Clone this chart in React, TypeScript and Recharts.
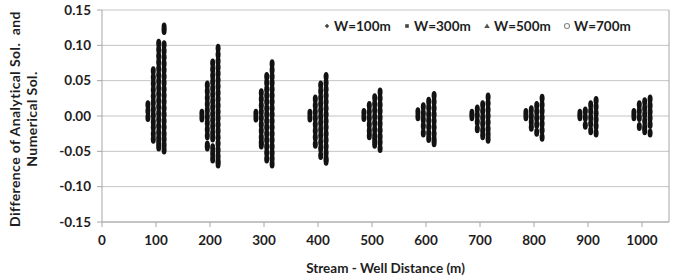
import React from "react";
import { ScatterChart, Scatter, XAxis, YAxis, CartesianGrid, ReferenceLine, Label } from "recharts";

const FONT = "Lato, 'Liberation Sans', sans-serif";
const TEXT = "#1e1e1e";
const GRID = "#c4c4c4";
const AXIS = "#a6a6a6";
const FS = 13.5;

const xTicks = [0, 100, 200, 300, 400, 500, 600, 700, 800, 900, 1000];
const yTicks = [-0.15, -0.1, -0.05, 0, 0.05, 0.1, 0.15];

// column x position for every stream-well distance, one list per well width
const w100X = [85, 185, 285, 385, 485, 585, 685, 785, 885, 985];
const w300X = [95, 195, 295, 395, 495, 595, 695, 795, 895, 995];
const w500X = [105, 205, 305, 405, 505, 605, 705, 805, 905, 1005];
const w700X = [115, 215, 315, 415, 515, 615, 715, 815, 915, 1015];

// differences (analytical - numerical), one list per distance
const w100Y = [
  [0.016, 0.007, -0.002],
  [0.004, -0.003],
  [0.004, -0.003],
  [0.004, -0.003],
  [0.005, -0.002],
  [0.006, -0.001],
  [0.004, -0.001],
  [0.005, -0.001],
  [0.004, -0.001],
  [0.005, -0.001],
];

const w300Y = [
  [0.064, 0.055, 0.046, 0.037, 0.028, 0.019, 0.01, 0.001, -0.008, -0.016, -0.025, -0.033],
  [0.044, 0.035, 0.026, 0.017, 0.008, -0.001, -0.01, -0.019, -0.028, -0.041, -0.044],
  [0.033, 0.024, 0.015, 0.006, -0.003, -0.012, -0.021, -0.03, -0.037, -0.041],
  [0.024, 0.015, 0.006, -0.003, -0.012, -0.021, -0.03, -0.04],
  [0.015, 0.006, -0.003, -0.012, -0.021, -0.028],
  [0.013, 0.004, -0.005, -0.014, -0.024],
  [0.01, 0.001, -0.008, -0.018],
  [0.009, 0.0, -0.008, -0.016],
  [0.007, -0.002, -0.013],
  [0.016, 0.007, -0.002, -0.015],
];

const w500Y = [
  [0.103, 0.094, 0.085, 0.076, 0.067, 0.058, 0.049, 0.04, 0.031, 0.022, 0.013, 0.004, -0.005, -0.014, -0.023, -0.031, -0.038, -0.044],
  [0.075, 0.066, 0.057, 0.048, 0.039, 0.03, 0.021, 0.012, 0.003, -0.006, -0.015, -0.024, -0.031, -0.045, -0.053, -0.061],
  [0.056, 0.047, 0.038, 0.029, 0.02, 0.011, 0.002, -0.007, -0.016, -0.025, -0.034, -0.043, -0.052, -0.061],
  [0.044, 0.035, 0.026, 0.017, 0.008, -0.001, -0.01, -0.019, -0.028, -0.037, -0.046, -0.056],
  [0.026, 0.017, 0.008, -0.001, -0.01, -0.019, -0.028, -0.034, -0.04],
  [0.021, 0.012, 0.003, -0.006, -0.015, -0.024, -0.032],
  [0.016, 0.007, -0.002, -0.011, -0.02, -0.028],
  [0.015, 0.006, -0.003, -0.012, -0.023],
  [0.016, 0.007, -0.002, -0.011, -0.021],
  [0.02, 0.011, 0.002, -0.007, -0.016, -0.021],
];

const w700Y = [
  [0.126, 0.121, 0.101, 0.092, 0.083, 0.074, 0.065, 0.056, 0.047, 0.038, 0.029, 0.02, 0.011, 0.002, -0.007, -0.016, -0.025, -0.033, -0.041, -0.048],
  [0.096, 0.087, 0.078, 0.069, 0.06, 0.051, 0.042, 0.033, 0.024, 0.015, 0.006, -0.003, -0.012, -0.021, -0.03, -0.039, -0.048, -0.057, -0.064, -0.068],
  [0.074, 0.065, 0.056, 0.047, 0.038, 0.029, 0.02, 0.011, 0.002, -0.007, -0.016, -0.025, -0.034, -0.043, -0.052, -0.06, -0.068],
  [0.056, 0.047, 0.038, 0.029, 0.02, 0.011, 0.002, -0.007, -0.016, -0.025, -0.034, -0.043, -0.052, -0.06, -0.064],
  [0.034, 0.025, 0.016, 0.007, -0.002, -0.011, -0.02, -0.029, -0.037, -0.046],
  [0.029, 0.02, 0.011, 0.002, -0.007, -0.016, -0.025, -0.033, -0.038],
  [0.027, 0.018, 0.009, 0.0, -0.009, -0.018, -0.026, -0.033],
  [0.025, 0.016, 0.007, -0.002, -0.011, -0.02, -0.03],
  [0.022, 0.013, 0.004, -0.005, -0.014, -0.024],
  [0.024, 0.015, 0.006, -0.003, -0.012, -0.024],
];

const seriesNames = ["W=100m", "W=300m", "W=500m", "W=700m"];

function toPoints(xs: number[], ys: number[][]) {
  return xs.flatMap((x, i) => ys[i].map((y) => ({ x, y })));
}

const series = [
  { name: seriesNames[0], data: toPoints(w100X, w100Y) },
  { name: seriesNames[1], data: toPoints(w300X, w300Y) },
  { name: seriesNames[2], data: toPoints(w500X, w500Y) },
  { name: seriesNames[3], data: toPoints(w700X, w700Y) },
];

// dense columns of markers, drawn as small upright ellipses
const columnDot = (props: any) => (
  <ellipse cx={props.cx} cy={props.cy} rx={2.5} ry={4.5} fill="#121212" />
);

function LegendIcon({ index }: { index: number }) {
  if (index === 0) return <path d="M4 1.8 L6.2 4 L4 6.2 L1.8 4 Z" fill="#444" />;
  if (index === 1) return <rect x={2.2} y={2.2} width={3.6} height={3.6} fill="#444" />;
  if (index === 2) return <path d="M4 1.5 L6.8 6 L1.2 6 Z" fill="#555" />;
  return <circle cx={4} cy={4} r={2.5} fill="#fff" stroke="#888" strokeWidth={1.1} />;
}

// legend row sitting inside the top of the plot area
function LegendBox() {
  return (
    <div
      style={{
        position: "absolute",
        top: 17,
        left: 323,
        display: "flex",
        fontFamily: FONT,
        fontWeight: 700,
        fontSize: FS,
        lineHeight: "18px",
        color: TEXT,
      }}
    >
      {seriesNames.map((n) => (
        <div key={n} style={{ width: 80, display: "flex", alignItems: "center" }}>
          <svg width={8} height={8} style={{ marginRight: 3 }}>
            <LegendIcon index={seriesNames.indexOf(n)} />
          </svg>
          <span>{n}</span>
        </div>
      ))}
    </div>
  );
}

function YTitle(props: any) {
  const { viewBox } = props;
  const cy = viewBox.y + viewBox.height / 2 + 3;
  const style = { fontFamily: FONT, fontWeight: 700, fontSize: 14, letterSpacing: 0.4, fill: TEXT, whiteSpace: "pre" as const };
  return (
    <g>
      <text x={14} y={cy} transform={`rotate(-90 14 ${cy})`} textAnchor="middle" dominantBaseline="central" style={style}>
        {"Difference of Analytical Sol.  and"}
      </text>
      <text x={31} y={cy} transform={`rotate(-90 31 ${cy})`} textAnchor="middle" dominantBaseline="central" style={style}>
        Numerical Sol.
      </text>
    </g>
  );
}

const tickStyle = { fontFamily: FONT, fontWeight: 700, fontSize: FS, fill: TEXT };

export default function App() {
  return (
    <div style={{ position: "absolute", left: 0, top: 0, width: 682, height: 279, background: "#fff" }}>
      <ScatterChart width={682} height={279} margin={{ top: 10, right: 13, bottom: 0, left: 0 }}>
        <CartesianGrid vertical={false} stroke={GRID} />
        <XAxis
          type="number"
          dataKey="x"
          domain={[0, 1050]}
          ticks={xTicks}
          height={57}
          tickSize={5}
          tickMargin={8}
          stroke={AXIS}
          tick={tickStyle}
          interval={0}
        >
          <Label
            value="Stream - Well Distance (m)"
            position="insideBottom"
            offset={6}
            style={{ fontFamily: FONT, fontWeight: 700, fontSize: FS, fill: TEXT }}
          />
        </XAxis>
        <YAxis
          type="number"
          dataKey="y"
          domain={[-0.15, 0.15]}
          ticks={yTicks}
          width={102}
          tickSize={5}
          tickMargin={6}
          stroke={AXIS}
          tick={tickStyle}
          interval={0}
          tickFormatter={(v: number) => v.toFixed(2)}
          label={<YTitle />}
        />
        <ReferenceLine x={1050} stroke={AXIS} />
        {series.map((s) => (
          <Scatter key={s.name} name={s.name} data={s.data} shape={columnDot} isAnimationActive={false} />
        ))}
      </ScatterChart>
      <LegendBox />
    </div>
  );
}
